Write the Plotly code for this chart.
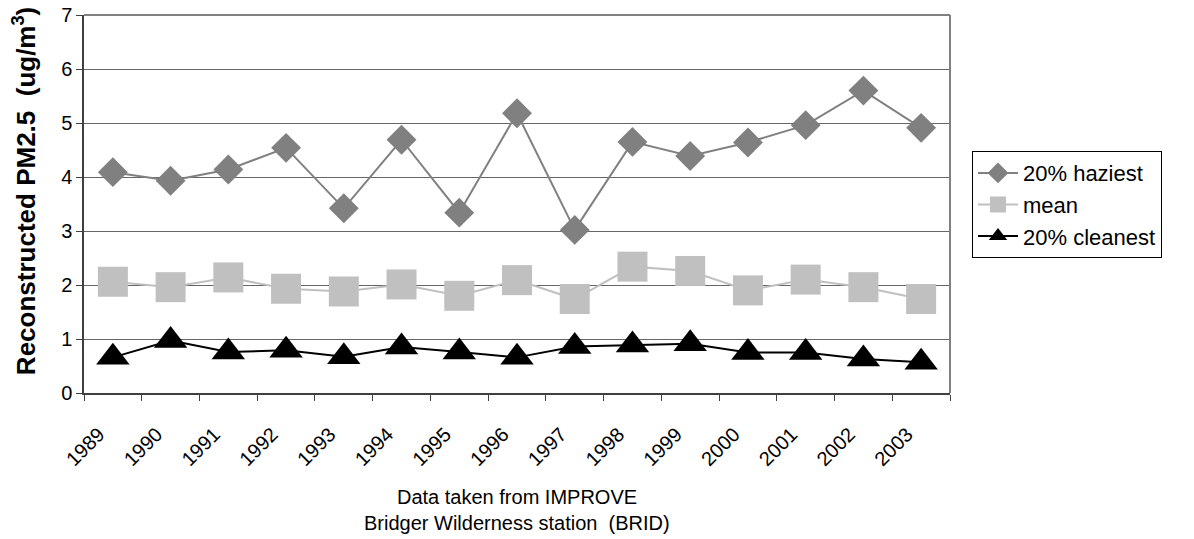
import plotly.graph_objects as go

years = ["1989", "1990", "1991", "1992", "1993", "1994", "1995", "1996",
         "1997", "1998", "1999", "2000", "2001", "2002", "2003"]
haziest = [4.09, 3.93, 4.14, 4.54, 3.42, 4.69, 3.34, 5.18,
           3.02, 4.65, 4.39, 4.64, 4.96, 5.60, 4.91]
mean = [2.06, 1.96, 2.14, 1.93, 1.88, 2.01, 1.80, 2.09,
        1.74, 2.34, 2.26, 1.90, 2.10, 1.96, 1.74]
cleanest = [0.66, 0.97, 0.76, 0.79, 0.67, 0.85, 0.76, 0.66,
            0.86, 0.89, 0.91, 0.75, 0.75, 0.63, 0.57]
y_ticks = [0, 1, 2, 3, 4, 5, 6, 7]

FONT = "Liberation Sans, Arial, sans-serif"

fig = go.Figure()
fig.add_trace(go.Scatter(x=years, y=haziest, name="20% haziest", mode="lines+markers",
                         line=dict(color="#808080", width=2),
                         marker=dict(symbol="diamond", size=23, color="#808080")))
fig.add_trace(go.Scatter(x=years, y=mean, name="mean", mode="lines+markers",
                         line=dict(color="#C0C0C0", width=2),
                         marker=dict(symbol="square", size=30, color="#C0C0C0")))
fig.add_trace(go.Scatter(x=years, y=cleanest, name="20% cleanest", mode="lines+markers",
                         line=dict(color="#000000", width=2),
                         marker=dict(symbol="triangle-up", size=29, color="#000000")))

fig.update_layout(
    width=1186, height=531,
    margin=dict(l=76, r=244, t=7, b=146, autoexpand=False),
    paper_bgcolor="white", plot_bgcolor="white",
    font=dict(family=FONT, size=20, color="black"),
    showlegend=True,
    legend=dict(x=1.0254, y=0.64, xanchor="left", yanchor="top",
                bordercolor="black", borderwidth=1, bgcolor="white",
                font=dict(family=FONT, size=22, color="black"),
                itemwidth=40, tracegroupgap=0, entrywidth=175, entrywidthmode="pixels"),
    xaxis=dict(type="category", tickson="boundaries", ticks="outside", ticklen=6,
               tickcolor="#404040", showline=True, linecolor="#404040", linewidth=1.5,
               mirror=False, showgrid=False, tickangle=-45, automargin=False,
               ticklabelstandoff=20, ticklabelshift=-14,
               tickfont=dict(family=FONT, size=20, color="black"), range=[-0.5, 14.5]),
    yaxis=dict(range=[0, 7], tickvals=y_ticks, ticks="outside", ticklen=6,
               tickcolor="#404040", showline=True, linecolor="#404040", linewidth=1.5,
               showgrid=True, gridcolor="#666666", gridwidth=1, zeroline=False,
               automargin=False, ticklabeloverflow="allow",
               tickfont=dict(family=FONT, size=20, color="black")),
    shapes=[
        dict(type="line", xref="paper", yref="paper", x0=0, x1=1, y0=1, y1=1,
             line=dict(color="#808080", width=2)),
        dict(type="line", xref="paper", yref="paper", x0=1, x1=1, y0=0, y1=1,
             line=dict(color="#808080", width=2)),
    ],
    annotations=[
        dict(text="<b>Reconstructed PM2.5  (ug/m<sup>3</sup>)</b>",
             xref="paper", yref="paper", x=-0.0693, y=0.534, xanchor="center", yanchor="middle",
             textangle=-90, showarrow=False, font=dict(family=FONT, size=26, color="black")),
        dict(text="Data taken from IMPROVE",
             xref="paper", yref="paper", x=0.5, y=-0.2751, xanchor="center", yanchor="middle",
             showarrow=False, font=dict(family=FONT, size=20, color="black")),
        dict(text="Bridger Wilderness station  (BRID)",
             xref="paper", yref="paper", x=0.5, y=-0.344, xanchor="center", yanchor="middle",
             showarrow=False, font=dict(family=FONT, size=20, color="black")),
    ],
)

fig.write_html("out.html")
